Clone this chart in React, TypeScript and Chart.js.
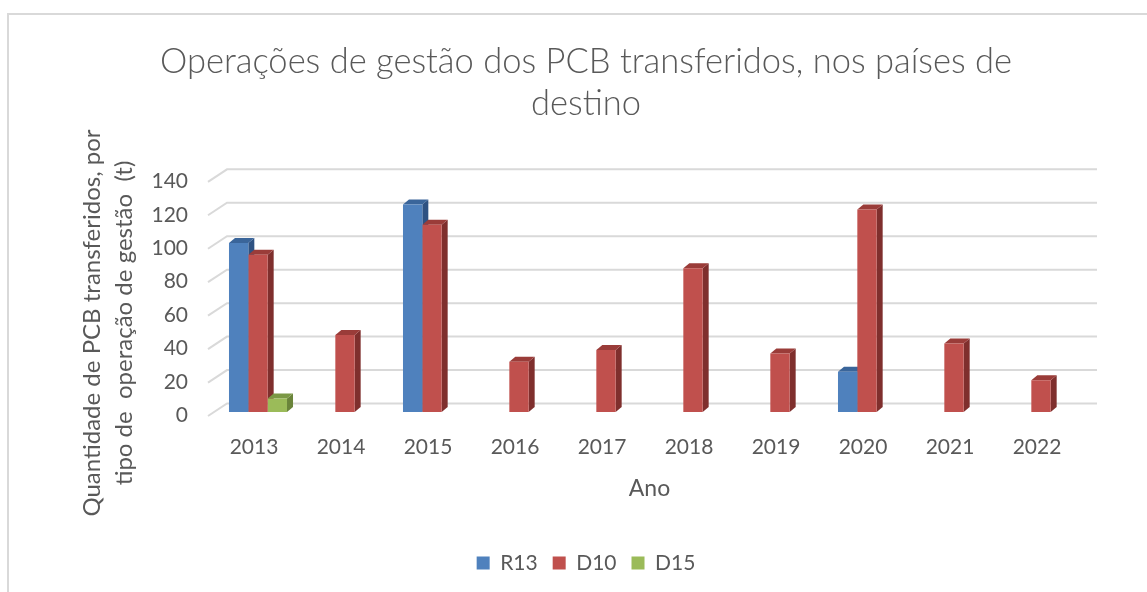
import React, { useEffect, useRef } from "react";
import { Chart, registerables } from "chart.js";

Chart.register(...registerables);

const years = ["2013", "2014", "2015", "2016", "2017", "2018", "2019", "2020", "2021", "2022"];
const r13Values = [101, null, 124, null, null, null, null, 24, null, null];
const d10Values = [94, 46, 112, 30, 37, 86, 35, 121, 41, 19];
const d15Values = [8, null, null, null, null, null, null, null, null, null];
const yTickValues = [0, 20, 40, 60, 80, 100, 120, 140];
const seriesNames = ["R13", "D10", "D15"];
const titleLines = ["Operações de gestão dos PCB transferidos, nos países de", "destino"];
const yTitleLines = ["Quantidade de PCB transferidos, por", "tipo de  operação de gestão  (t)"];
const xTitle = "Ano";

const frontColors = ["#4F81BD", "#C0504D", "#9BBB59"];
const topColors = ["#3A659A", "#9A3C39", "#7B9845"];
const sideColors = ["#2E5282", "#7F2F2D", "#6A843A"];
const TEXT = "#595959";
const FONT = "Lato, 'Open Sans', sans-serif";

const DEPTH_X = 6;
const DEPTH_Y = 5;

const borderPlugin = {
  id: "outerBorder",
  beforeDraw(chart: any) {
    const { ctx } = chart;
    ctx.save();
    ctx.fillStyle = "#FFFFFF";
    ctx.fillRect(0, 0, chart.width, chart.height);
    ctx.strokeStyle = "#D9D9D9";
    ctx.lineWidth = 2;
    ctx.strokeRect(8, 14, 2000, 2000);
    ctx.restore();
  },
};

const threeDPlugin = {
  id: "threeD",
  beforeDatasetsDraw(chart: any) {
    const { ctx, chartArea } = chart;
    const y = chart.scales.y;
    ctx.save();
    ctx.strokeStyle = "#D9D9D9";
    ctx.lineWidth = 2;
    for (const v of yTickValues) {
      const p = y.getPixelForValue(v);
      ctx.beginPath();
      ctx.moveTo(chartArea.left - 6.5, p + 4);
      ctx.lineTo(chartArea.left + 12.5, p - 8.5);
      ctx.lineTo(chartArea.right + 12.5, p - 8.5);
      ctx.stroke();
    }
    chart.data.datasets.forEach((ds: any, i: number) => {
      const meta = chart.getDatasetMeta(i);
      meta.data.forEach((bar: any, j: number) => {
        if (ds.data[j] == null) return;
        const { x, y: top, base, width } = bar.getProps(["x", "y", "base", "width"], true);
        const l = x - width / 2;
        const r = x + width / 2;
        ctx.fillStyle = sideColors[i];
        ctx.beginPath();
        ctx.moveTo(r, top);
        ctx.lineTo(r + DEPTH_X, top - DEPTH_Y);
        ctx.lineTo(r + DEPTH_X, base - DEPTH_Y);
        ctx.lineTo(r, base);
        ctx.closePath();
        ctx.fill();
        ctx.fillStyle = topColors[i];
        ctx.beginPath();
        ctx.moveTo(l, top);
        ctx.lineTo(l + DEPTH_X, top - DEPTH_Y);
        ctx.lineTo(r + DEPTH_X, top - DEPTH_Y);
        ctx.lineTo(r, top);
        ctx.closePath();
        ctx.fill();
      });
    });
    ctx.restore();
  },
};

const yTitlePlugin = {
  id: "yTitle",
  afterDraw(chart: any) {
    const { ctx } = chart;
    ctx.save();
    ctx.translate(92, 323);
    ctx.rotate(-Math.PI / 2);
    ctx.fillStyle = TEXT;
    ctx.font = `24px ${FONT}`;
    ctx.textAlign = "center";
    ctx.textBaseline = "middle";
    ctx.fillText(yTitleLines[0], 0, 0);
    ctx.fillText(yTitleLines[1], 0, 32);
    ctx.restore();
  },
};

export default function App() {
  const canvasRef = useRef<HTMLCanvasElement | null>(null);

  useEffect(() => {
    if (!canvasRef.current) return;
    const seriesValues = [r13Values, d10Values, d15Values];
    const chart = new Chart(canvasRef.current, {
      type: "bar",
      data: {
        labels: years,
        datasets: seriesNames.map((name, i) => ({
          label: name,
          data: seriesValues[i],
          backgroundColor: frontColors[i],
          borderWidth: 0,
          categoryPercentage: 0.667,
          barPercentage: 1.0,
        })),
      },
      options: {
        responsive: false,
        animation: false,
        layout: { padding: { top: 41.5, right: 62.5, bottom: 8.5, left: 87.5 } },
        plugins: {
          title: {
            display: true,
            text: titleLines,
            color: TEXT,
            font: { family: FONT, size: 34.5, weight: 300 as any, lineHeight: 1.2 },
            padding: { top: 0, bottom: 53.5 },
          },
          legend: {
            position: "bottom",
            labels: {
              boxWidth: 13,
              boxHeight: 13,
              color: TEXT,
              font: { family: FONT, size: 21 },
              padding: 15,
            },
          },
          tooltip: { enabled: false },
        },
        scales: {
          x: {
            grid: { display: false, drawTicks: false },
            border: { display: false },
            ticks: { color: TEXT, font: { family: FONT, size: 21 }, padding: 22.4, labelOffset: -4 },
            title: {
              display: true,
              text: xTitle,
              color: TEXT,
              font: { family: FONT, size: 23 },
              padding: { top: 10, bottom: 34.7 },
            },
            afterFit: (s: any) => {
              s.height = 125.5;
            },
          },
          y: {
            min: 0,
            max: 140,
            grid: { display: false, drawTicks: false },
            border: { display: false },
            ticks: { stepSize: 20, color: TEXT, font: { family: FONT, size: 21 }, padding: 26.5, labelOffset: 3.5 },
            afterFit: (s: any) => {
              s.width = 127;
            },
          },
        },
      },
      plugins: [borderPlugin, threeDPlugin, yTitlePlugin],
    });
    return () => chart.destroy();
  }, []);

  return (
    <div style={{ position: "fixed", left: 0, top: 0, width: 1147, height: 592 }}>
      <canvas ref={canvasRef} width={1147} height={592} style={{ display: "block" }} />
    </div>
  );
}
